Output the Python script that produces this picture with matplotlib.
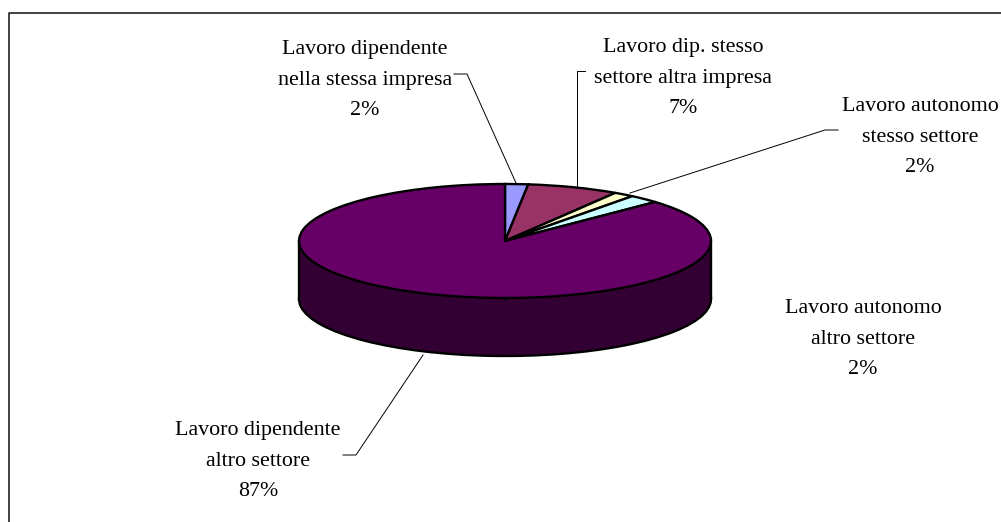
"""Torta 3D - destinazione lavoro"""
import matplotlib
matplotlib.use('Agg')
import matplotlib.pyplot as plt

categories = ['Lavoro dipendente\nnella stessa impresa', 'Lavoro dip. stesso\nsettore altra impresa',
              'Lavoro autonomo\nstesso settore', 'Lavoro autonomo\naltro settore',
              'Lavoro dipendente\naltro settore']
values = [1.8, 7.2, 1.6, 2.4, 87.0]
pct_labels = ['2%', '7%', '2%', '2%', '87%']
colors = ['#9999FF', '#993366', '#FFFFCC', '#CCFFFF', '#660066']
side_colors = ['#4C4C80', '#4C1933', '#808066', '#668080', '#330033']
label_pos = [(365, 80), (683, 78), (920, 137), (863, 339), (258, 461)]
leaders = [([454, 467, 516], [74, 74, 183]),
           ([585, 577, 577], [71, 71, 186]),
           ([630, 825, 838], [193, 130, 130]),
           ([423, 356, 343], [355, 455, 455])]

W, H = 1001, 522
CX, CY, RX, RY, DEPTH = 505, 241, 206, 57, 58
plt.rcParams['font.family'] = ['Liberation Serif', 'DejaVu Serif']

fig = plt.figure(figsize=(W / 100, H / 100), dpi=100, facecolor='white')

# pie axes: x and y scales differ, that gives the flat ellipse
y_lo, y_hi, x_m = -2.2, 1.1, 1.05
ax = fig.add_axes([(CX - x_m * RX) / W, 1 - (CY - y_lo * RY) / H,
                   2 * x_m * RX / W, (y_hi - y_lo) * RY / H])
d = DEPTH / RY
edge = dict(edgecolor='black', linewidth=1.7)
ax.pie(values, colors=side_colors, startangle=90, counterclock=False, center=(0, -d),
       radius=1, wedgeprops=dict(zorder=1, **edge))
ax.fill_between([-1, 1], [-d, -d], [0, 0], color=side_colors[-1], lw=0, zorder=2)
ax.plot([-1, -1], [-d, 0], color='black', lw=1.7, zorder=3)
ax.plot([1, 1], [-d, 0], color='black', lw=1.7, zorder=3)
ax.pie(values, colors=colors, startangle=90, counterclock=False, center=(0, 0),
       radius=1, wedgeprops=dict(zorder=4, **edge))
ax.set_aspect('auto')
ax.set_xlim(-x_m, x_m)
ax.set_ylim(y_lo, y_hi)
ax.axis('off')

# overlay in pixel coordinates for frame, leaders and labels
ov = fig.add_axes([0, 0, 1, 1], zorder=5)
ov.set_xlim(0, W)
ov.set_ylim(H, 0)
ov.axis('off')
ov.patch.set_alpha(0)
ov.plot([8.7, 8.7, W], [H, 13, 13], color='#222222', lw=1.2)
for xs, ys in leaders:
    ov.plot(xs, ys, color='black', lw=0.7)
for cat, pct, (x, y) in zip(categories, pct_labels, label_pos):
    ov.text(x, y, cat + '\n' + pct, ha='center', va='center', fontsize=15.8, linespacing=1.8, color='black')

plt.savefig('out.png', dpi=100)
plt.close()
